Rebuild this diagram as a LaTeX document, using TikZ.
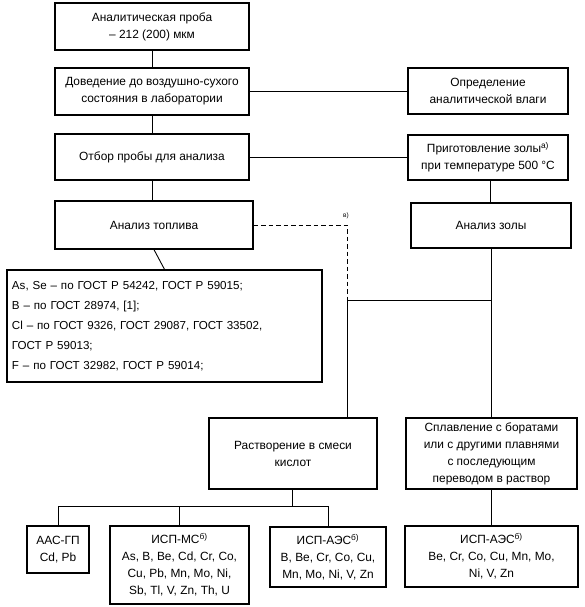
\documentclass[tikz,border=0pt]{standalone}
\usepackage{fontspec}
\setmainfont{Liberation Sans}
\begin{document}
\begin{tikzpicture}[x=1pt,y=-1pt,
  box/.style={draw, line width=1.3pt, align=center, inner sep=2pt,
    font=\fontsize{11.9}{17}\selectfont},
  conn/.style={line width=0.9pt},
  dconn/.style={line width=0.9pt, dash pattern=on 4.5pt off 3pt}]
\useasboundingbox (0,0) rectangle (585,607);
% left column
\node[box, minimum width=194pt, minimum height=47pt] (n1) at (152,26.5) {Аналитическая проба\\– 212 (200) мкм};
\node[box, minimum width=194pt, minimum height=47pt] (n2) at (152,91.5) {Доведение до воздушно-сухого\\состояния в лаборатории};
\node[box, minimum width=194pt, minimum height=46pt] (n3) at (152,157) {Отбор пробы для анализа};
\node[box, minimum width=198pt, minimum height=48pt] (n4) at (154,225) {Анализ топлива};
\node[box, minimum width=315pt, minimum height=112pt, align=left, text width=305pt,
  font=\fontsize{11.6}{20}\selectfont] (n5) at (164.5,326)
  {As, Se – по ГОСТ Р 54242, ГОСТ Р 59015;\\
   B – по ГОСТ 28974, [1];\\
   Cl – по ГОСТ 9326, ГОСТ 29087, ГОСТ 33502,\\
   ГОСТ Р 59013;\\
   F – по ГОСТ 32982, ГОСТ Р 59014;};
% right column
\node[box, minimum width=160pt, minimum height=46pt] (r1) at (488,91) {Определение\\аналитической влаги};
\node[box, minimum width=160pt, minimum height=45pt] (r2) at (488,157.5) {Приготовление золы\textsuperscript{а)}\\при температуре 500 °C};
\node[box, minimum width=160pt, minimum height=45pt] (r3) at (491,225.5) {Анализ золы};
% dissolution
\node[box, minimum width=168pt, minimum height=71pt] (d1) at (293,453.5) {Растворение в смеси\\кислот};
\node[box, minimum width=171pt, minimum height=71pt] (d2) at (491.5,453.5) {Сплавление с боратами\\или с другими плавнями\\с последующим\\переводом в раствор};
% methods
\node[box, minimum width=62pt, minimum height=47pt] (b1) at (58,549.5) {ААС-ГП\\Cd, Pb};
\node[box, minimum width=139pt, minimum height=78pt] (b2) at (179.5,565) {ИСП-МС\textsuperscript{б)}\\As, B, Be, Cd, Cr, Co,\\Cu, Pb, Mn, Mo, Ni,\\Sb, Tl, V, Zn, Th, U};
\node[box, minimum width=116pt, minimum height=60pt] (b3) at (328,557) {ИСП-АЭС\textsuperscript{б)}\\B, Be, Cr, Co, Cu,\\Mn, Mo, Ni, V, Zn};
\node[box, minimum width=173pt, minimum height=61pt] (b4) at (491.5,556.5) {ИСП-АЭС\textsuperscript{б)}\\Be, Cr, Co, Cu, Mn, Mo,\\Ni, V, Zn};
% coordinates
\coordinate (j1) at (491,300);
\coordinate (j2) at (347,300);
\coordinate (jd) at (347,225);
\coordinate (bus) at (292,506);
\node[font=\fontsize{6.5}{7}\selectfont, anchor=south, inner sep=1pt] (lv) at (346,220) {в)};
% connectors
\draw[conn] (n1.south) -- (n2.north);
\draw[conn] (n2.south) -- (n3.north);
\draw[conn] (n3.south) -- (n3.south |- n4.north);
\draw[conn] (n4.south) -- (n5.north);
\draw[conn] (n2.east |- r1.west) -- (r1.west);
\draw[conn] (n3.east |- r2.west) -- (r2.west);
\draw[conn] (r2.south -| 490,0) -- (r3.north -| 490,0);
\draw[conn] (r3.south) -- (j1) -- (j2) -- (j2 |- d1.north);
\draw[conn] (j1) -- (j1 |- d2.north);
\draw[dconn] (n4.east) -- (jd) -- (j2);
\draw[conn] (bus |- d1.south) -- (bus);
\draw[conn] (b1.north) -- (b1.north |- bus) -- (b3.north |- bus) -- (b3.north);
\draw[conn] (b2.north) -- (b2.north |- bus);
\draw[conn] (d2.south) -- (b4.north);
\end{tikzpicture}
\end{document}
